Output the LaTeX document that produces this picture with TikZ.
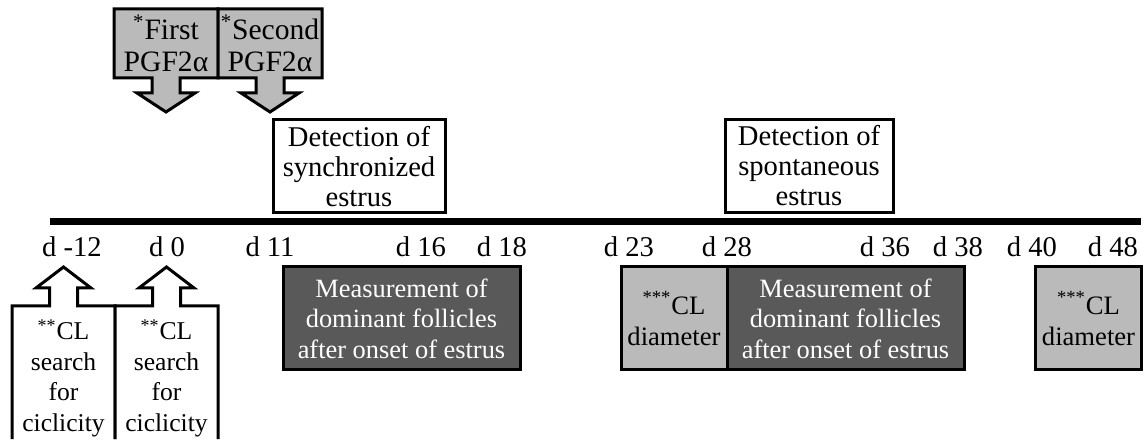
\documentclass[tikz,border=0pt]{standalone}
\usepackage{fontspec}
\setmainfont{Liberation Serif}
\usepackage{tikz}
\usetikzlibrary{positioning}
\definecolor{lightbox}{gray}{0.73}
\definecolor{darkbox}{gray}{0.35}
\tikzset{
  schedule/.style={
    x=0.5pt,y=0.5pt,line width=1.5pt,
    every node/.style={font=\fontsize{14.3}{15}\selectfont,align=center,inner sep=0pt}
  },
  day/.style={anchor=base},
  detect/.style={draw,fill=white,minimum width=86pt,minimum height=46.5pt},
  measure/.style={draw,fill=darkbox,text=white,minimum width=118.5pt,minimum height=51.5pt,
    font=\fontsize{13.2}{15.2}\selectfont},
  diameter/.style={draw,fill=lightbox,minimum width=53pt,minimum height=51.5pt,
    font=\fontsize{13.3}{15.5}\selectfont},
  injection/.style={font=\fontsize{14.8}{16}\selectfont},
  cyclicity/.style={font=\fontsize{12.8}{15.2}\selectfont},
  downcall/.style={draw,fill=lightbox,line join=miter},
  upcall/.style={draw,fill=white,line join=miter}
}

\begin{document}
\begin{tikzpicture}[schedule]
  \useasboundingbox (0,0) rectangle (1145,439);

  % PGF2alpha injections
  \draw[downcall] (114,430) -- (218,430) -- (218,361) -- (180,361) -- (180,346) -- (195,346)
    -- (166,327) -- (137,346) -- (152,346) -- (152,361) -- (114,361) -- cycle;
  \draw[downcall] (218,430) -- (322,430) -- (322,361) -- (284,361) -- (284,346) -- (299,346)
    -- (270,327) -- (241,346) -- (256,346) -- (256,361) -- (218,361) -- cycle;
  \node[injection] (first) at (166,395.5) {\textsuperscript{*}First\\PGF2α};
  \node[injection] (second) at (270,395.5) {\textsuperscript{*}Second\\PGF2α};

  % estrus detection
  \node[detect] (sync) at (359,272.5) {Detection of\\synchronized\\estrus};
  \node[detect,minimum width=84pt] (spont) at (809,273) {Detection of\\spontaneous\\estrus};

  % time line
  \coordinate (start) at (50,217.5);
  \coordinate (end) at (1141,217.5);
  \draw[line width=3.5pt] (start) -- (end);

  \node[day] (dm12) at (72,182) {d -12};
  \node[day] (d0) at (167,182) {d 0};
  \node[day] (d11) at (270,182) {d 11};
  \node[day] (d16) at (421,182) {d 16};
  \node[day] (d18) at (502,182) {d 18};
  \node[day] (d23) at (629,182) {d 23};
  \node[day] (d28) at (727,182) {d 28};
  \node[day] (d36) at (885,182) {d 36};
  \node[day] (d38) at (958,182) {d 38};
  \node[day] (d40) at (1032,182) {d 40};
  \node[day] (d48) at (1113,182) {d 48};

  % ultrasound
  \node[measure] (follA) at (401.5,120.5) {Measurement of\\dominant follicles\\after onset of estrus};
  \node[diameter] (diamA) at (674,120.5) {\textsuperscript{***}CL\\diameter};
  \node[measure] (follB) at (845.5,120.5) {Measurement of\\dominant follicles\\after onset of estrus};
  \node[diameter] (diamB) at (1088.5,120.5) {\textsuperscript{***}CL\\diameter};

  % cyclicity checks
  \draw[upcall] (12,0) -- (12,133) -- (49.5,133) -- (49.5,151) -- (36,151) -- (63.5,172)
    -- (91,151) -- (77.5,151) -- (77.5,133) -- (115,133) -- (115,0);
  \draw[upcall] (115,0) -- (115,133) -- (152.5,133) -- (152.5,151) -- (139,151) -- (166.5,172)
    -- (194,151) -- (180.5,151) -- (180.5,133) -- (218,133) -- (218,0);
  \node[cyclicity] (cyclA) at (63.5,61) {\textsuperscript{**}CL\\search\\for\\ciclicity};
  \node[cyclicity] (cyclB) at (166.5,61) {\textsuperscript{**}CL\\search\\for\\ciclicity};
\end{tikzpicture}
\end{document}
